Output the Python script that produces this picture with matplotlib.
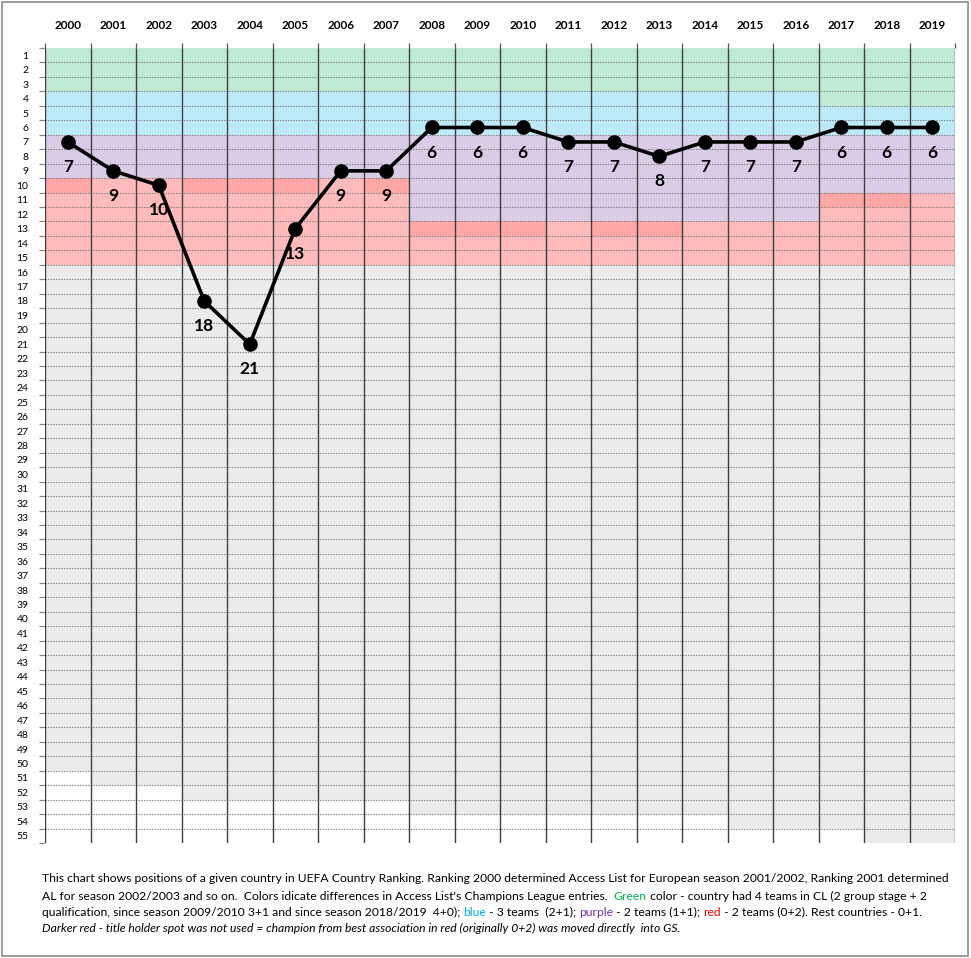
import matplotlib
matplotlib.use("Agg")
import matplotlib.pyplot as plt
from matplotlib.patches import Rectangle
import numpy as np

# ---------------- data ----------------
years = [2000, 2001, 2002, 2003, 2004, 2005, 2006, 2007, 2008, 2009,
         2010, 2011, 2012, 2013, 2014, 2015, 2016, 2017, 2018, 2019]
rank = [7, 9, 10, 18, 21, 13, 9, 9, 6, 6, 6, 7, 7, 8, 7, 7, 7, 6, 6, 6]

green_last = [3] * 17 + [4] * 3
blue_last = [6] * 20
purple_last = [9] * 8 + [12] * 9 + [10] * 3
red_last = [15] * 20
darker_red = [1, 0, 0, 1, 1, 1, 0, 1, 1, 1, 1, 0, 1, 1, 0, 0, 0, 1, 1, 0]
gray_last = [50, 51, 51, 52, 52, 52, 52, 52, 53, 53, 53, 53, 53, 53, 53, 54, 54, 54, 55, 55]
n_ranks = 55

GREEN = "#BFEBD3"
BLUE = "#BDEAF9"
PURPLE = "#DACCE7"
RED = "#FFBBBB"
DRED = "#FFA6A6"
GRAY = "#EBEBEB"

FONT = "Lato"
plt.rcParams["font.family"] = [FONT, "DejaVu Sans"]

W, H = 971, 958
fig = plt.figure(figsize=(W / 100, H / 100), dpi=100)
fig.patch.set_facecolor("white")
ax = fig.add_axes([45 / W, 1 - 843 / H, 910 / W, 795 / H])

x = np.arange(len(years))
g = np.array(green_last)
b = np.array(blue_last)
p = np.array(purple_last)
r = np.array(red_last)
gr = np.array(gray_last)
d = np.array(darker_red)

kw = dict(width=1.0, linewidth=0, zorder=0)
ax.bar(x, g, bottom=0.5, color=GREEN, **kw)
ax.bar(x, b - g, bottom=g + 0.5, color=BLUE, **kw)
ax.bar(x, p - b, bottom=b + 0.5, color=PURPLE, **kw)
ax.bar(x, r - p, bottom=p + 0.5, color=RED, **kw)
ax.bar(x, d * 1.0, bottom=p + 0.5, color=DRED, **kw)
ax.bar(x, gr - r, bottom=r + 0.5, color=GRAY, **kw)

ax.set_xlim(-0.5, len(years) - 0.5)
ax.set_ylim(n_ranks + 0.5, 0.5)

# grid lines
bounds_y = np.arange(1.5, n_ranks, 1.0)
ax.hlines(bounds_y, -0.5, len(years) - 0.5, colors="#7f7f7f",
          linestyles=(0, (1.2, 1.2)), linewidth=0.8, zorder=1)
bounds_x = np.arange(-0.5, len(years), 1.0)
ax.vlines(bounds_x, 0.5, n_ranks + 0.5, colors="#3f3f3f", linewidth=1.0, zorder=2)

for s in ax.spines.values():
    s.set_visible(False)

# ticks
ax.xaxis.tick_top()
ax.set_xticks(x)
ax.set_xticklabels([str(y) for y in years], fontsize=8.5, fontweight="bold")
ax.set_xticks(bounds_x, minor=True)
ax.tick_params(axis="x", which="major", length=0, pad=12)
ax.tick_params(axis="x", which="minor", length=3.8, width=0.9, color="#555555")

ax.set_yticks(np.arange(1, n_ranks + 1))
ax.set_yticklabels([str(i) for i in range(1, n_ranks + 1)], fontsize=7.5)
ax.set_yticks(np.arange(0.5, n_ranks + 1, 1.0), minor=True)
ax.tick_params(axis="y", which="major", length=0, pad=12)
ax.tick_params(axis="y", which="minor", length=4, width=0.9, color="#888888")

# data line
ax.plot(x, rank, color="black", linewidth=2.6, marker="o", markersize=9.5,
        zorder=5, clip_on=False)
for xi, ri in zip(x, rank):
    ax.annotate(str(ri), (xi, ri), xytext=(0, -18), textcoords="offset points",
                ha="center", va="center", fontsize=12.5, fontweight="bold", zorder=6)

# outer border
fig.patches.append(Rectangle((2 / W, 2 / H), 966 / W, 954 / H, transform=fig.transFigure,
                             fill=False, edgecolor="#8c8c8c", linewidth=1.2))

# footnote
line1 = ("This chart shows positions of a given country in UEFA Country Ranking. Ranking 2000 "
         "determined Access List for European season 2001/2002, Ranking 2001 determined")
line2 = [("AL for season 2002/2003 and so on.  Colors idicate differences in Access List's "
          "Champions League entries.  ", "black"),
         ("Green", "#00B050"),
         (" color - country had 4 teams in CL (2 group stage + 2", "black")]
line3 = [("qualification, since season 2009/2010 3+1 and since season 2018/2019  4+0); ", "black"),
         ("blue", "#00B0F0"),
         (" - 3 teams  (2+1); ", "black"),
         ("purple", "#7030A0"),
         (" - 2 teams (1+1); ", "black"),
         ("red", "#FF0000"),
         (" - 2 teams (0+2). Rest countries - 0+1.", "black")]
line4 = ("Darker red - title holder spot was not used = champion from best association in red "
         "(originally 0+2) was moved directly  into GS.")

renderer = fig.canvas.get_renderer()
x0 = 42 / W
base_fs = 8.0
t1 = fig.text(x0, 1 - 879 / H, line1, fontsize=base_fs, va="center", ha="left")
w1 = t1.get_window_extent(renderer).width
fs = base_fs * 907.0 / w1
t1.set_fontsize(fs)


def chain(parts, ypix):
    prev = fig.text(x0, 1 - ypix / H, parts[0][0], fontsize=fs, color=parts[0][1],
                    va="center", ha="left")
    for txt, col in parts[1:]:
        prev = ax.annotate(txt, xy=(1, 0), xycoords=prev, fontsize=fs, color=col,
                           va="bottom", ha="left", annotation_clip=False)


chain(line2, 896)
chain(line3, 912)
fig.text(x0, 1 - 928 / H, line4, fontsize=fs, va="center", ha="left", style="italic")

fig.savefig("out.png", dpi=100, facecolor="white")
